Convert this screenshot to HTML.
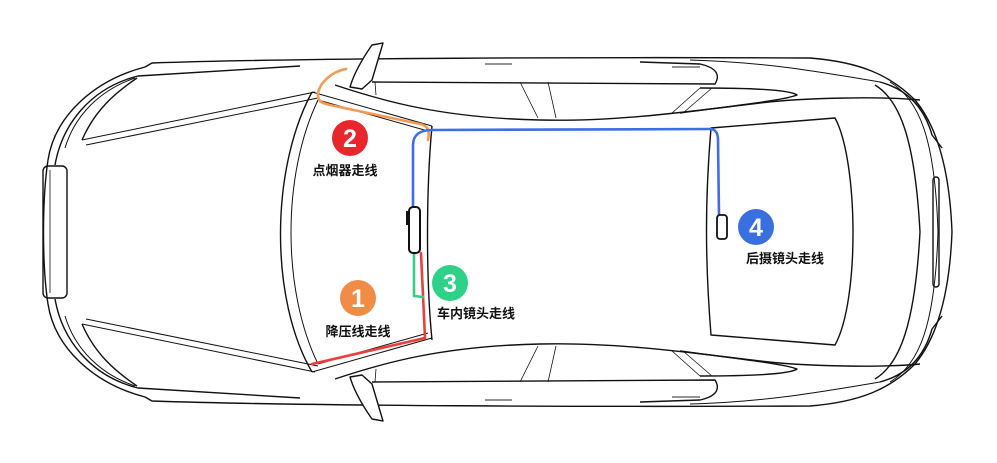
<!DOCTYPE html>
<html><head><meta charset="utf-8"><style>
html,body{margin:0;padding:0;background:#fff;width:997px;height:463px;overflow:hidden}
svg{display:block}
text{font-family:"Liberation Sans","Noto Sans CJK SC",sans-serif;font-weight:bold}
</style></head><body>
<svg width="997" height="463" viewBox="0 0 997 463" xmlns="http://www.w3.org/2000/svg">
<g fill="none" stroke="#111" stroke-width="1.4" stroke-linejoin="round">
<g id="half">
  <!-- outer body top -->
  <path d="M48,160 C55,115 95,80 145,67 L152,63 C300,58 600,57 810,58 C860,62 890,75 915,100 C940,130 950,180 952,232"/>
  <path d="M55,165 C62,125 90,88 138,76 L300,66"/>
  <path d="M65,148 C75,115 100,90 135,78" stroke-width="1"/>
  <path d="M82,140 C95,110 115,93 137,78" />
  <!-- hood lines -->
  <path d="M82,140 L315,92 M86,145 L318,98" stroke-width="1"/>
  <!-- right rear -->
  <path d="M880,82 C910,90 925,110 932,135 L942,148" />
  <path d="M875,85 C900,100 915,140 920,232" />
  <path d="M890,82 C920,100 935,140 938,232" stroke-width="1"/>
  <!-- door/window rails -->
  <path d="M372,82 L715,84 C720,76 718,68 700,64 L640,62"/>
  <path d="M690,60 C760,62 810,70 880,82" stroke-width="1"/>
  <path d="M680,113 C740,105 785,100 797,95 C790,90 750,88 700,88" />
  <path d="M335,85 C380,100 440,118 540,120 C620,122 700,110 760,103 C800,98 880,96 920,100" />
  <path d="M375,82 L376,95 M520,82 L538,118 M548,82 L556,118 M672,113 L700,88 M683,113 L712,88" stroke-width="0.8"/>
  <path d="M485,64 L512,64 M672,67 L700,67" stroke="#555" stroke-width="1.2"/>
  <!-- mirror -->
  <path d="M350,87 C355,70 365,55 372,45 L383,43 L372,80 L362,89 Z" fill="#fff"/>
  <!-- windshield top edge -->
  <path d="M312,92 L432,126 M318,100 L428,131" stroke-width="1"/>
</g>
<use href="#half" transform="matrix(1 0 0 -1 0 464)"/>
<!-- front bumper -->
<path d="M48,160 C42,200 42,265 48,304"/>
<rect x="43" y="166" width="24" height="132" rx="5"/>
<path d="M50,170 L50,293" stroke-width="0.8"/>
<!-- rear reflector -->
<rect x="933" y="177" width="6" height="110" rx="3"/>
<!-- windshield -->
<path d="M312,92 C270,170 270,300 312,372"/>
<path d="M318,100 C282,175 282,290 318,364" stroke-width="1"/>
<path d="M432,126 C426,190 426,280 432,340"/>
<!-- rear window -->
<path d="M711,128 L835,118 C858,160 860,300 835,345 L711,335 C705,260 705,200 711,128 Z"/>
</g>
<!-- cables -->
<g fill="none" stroke-width="2.6" stroke-linecap="round" stroke-linejoin="round">
<path d="M346,69 C330,72 318,85 318,95 C318,102 322,103 330,105 L420,124 C428,126 430,130 428,140" stroke="#f39a55"/>
<path d="M413,208 L413,145 C413,135 420,130 432,130 L710,129 C716,129 718,134 718,140 L719,216" stroke="#3d6ee6"/>
<path d="M312,364 L425,338 L421,253" stroke="#ee3d3d"/>
<path d="M414,253 L414,296 L423,297" stroke="#35cc86"/>
</g>
<!-- cameras -->
<rect x="406" y="211" width="4" height="14" fill="#111"/>
<rect x="409" y="207" width="11" height="46" rx="4" fill="#fff" stroke="#111" stroke-width="2"/>
<rect x="717" y="215" width="10" height="24" rx="3" fill="#fff" stroke="#111" stroke-width="1.8"/>
<!-- badges -->
<circle cx="350" cy="138" r="18" fill="#e8262b"/>
<text x="350" y="147" font-size="25" fill="#fff" text-anchor="middle">2</text>
<circle cx="358" cy="298" r="18" fill="#f08c45"/>
<text x="358" y="307" font-size="25" fill="#fff" text-anchor="middle">1</text>
<circle cx="450" cy="283" r="18" fill="#2fd087"/>
<text x="450" y="292" font-size="25" fill="#fff" text-anchor="middle">3</text>
<circle cx="756" cy="227" r="18" fill="#3a6fe0"/>
<text x="756" y="236" font-size="25" fill="#fff" text-anchor="middle">4</text>
<g font-size="13" fill="#111" text-anchor="middle">
<text x="345" y="175">点烟器走线</text>
<text x="358" y="336">降压线走线</text>
<text x="476" y="318">车内镜头走线</text>
<text x="785" y="263">后摄镜头走线</text>
</g>
</svg>
</body></html>
